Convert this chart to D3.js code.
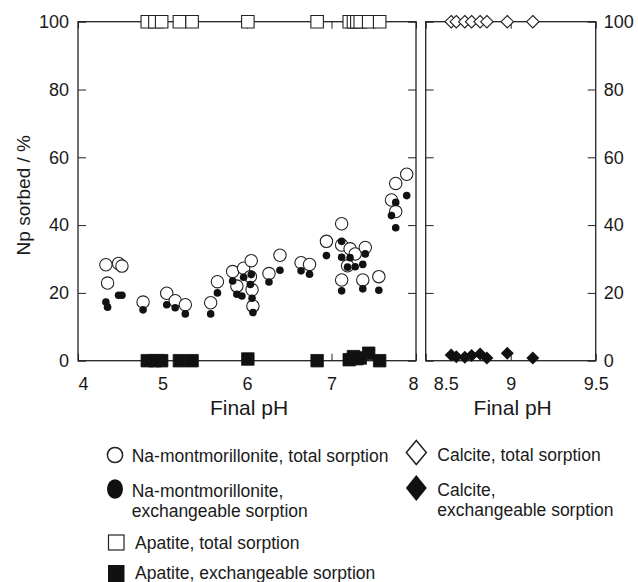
<!DOCTYPE html>
<html>
<head>
<meta charset="utf-8">
<script src="https://cdn.jsdelivr.net/npm/d3@7/dist/d3.min.js"></script>
<style>
  html, body { margin: 0; padding: 0; background: #fff; }
  svg { display: block; }
  text { font-family: "Liberation Sans", Arial, Helvetica, sans-serif; fill: #1a1a1a; }
</style>
</head>
<body>
<svg id="chart" width="638" height="582"></svg>
<script>
// ---------------- data ----------------
const montTotalPH = [4.33,4.35,4.48,4.52,4.77,5.05,5.15,5.27,5.57,5.65,5.83,5.88,5.96,6.05,6.04,6.06,6.07,6.26,6.39,6.64,6.74,6.94,7.12,7.12,7.12,7.22,7.28,7.19,7.40,7.37,7.56,7.71,7.76,7.76,7.89];
const montTotal   = [28.3,22.9,28.7,27.9,17.3,19.9,17.7,16.5,17.1,23.3,26.3,22.0,27.3,29.5,24.8,20.9,16.1,25.7,31.1,28.9,28.4,35.2,40.4,34.1,23.8,33.0,31.5,28.0,33.4,23.8,24.8,47.4,52.3,44.0,55.0];
const montExPH    = [4.33,4.35,4.48,4.52,4.77,5.05,5.15,5.27,5.57,5.65,5.83,5.88,5.94,5.96,6.05,6.04,6.06,6.07,6.26,6.39,6.64,6.74,6.94,7.12,7.12,7.12,7.19,7.22,7.28,7.37,7.40,7.37,7.56,7.71,7.76,7.76,7.89];
const montEx      = [17.3,15.8,19.3,19.3,15.0,16.5,15.6,13.8,13.8,20.0,23.5,19.6,19.1,24.6,25.4,22.5,18.4,14.2,23.2,26.7,26.5,25.5,31.0,35.2,30.5,20.6,27.6,30.4,27.7,28.4,31.5,21.2,20.8,42.8,46.7,39.2,48.7];
const apPH        = [4.82,4.91,4.99,5.20,5.35,6.01,6.83,7.21,7.26,7.30,7.34,7.44,7.57];
const apTotal     = [100,100,100,100,100,100,100,100,100,100,100,100,100];
const apEx        = [0,0,0,0,0,0.5,0,0.3,1.2,0.6,0.8,2.2,0];
const calPH       = [8.65,8.68,8.73,8.77,8.82,8.86,8.98,9.13];
const calTotal    = [100,100,100,100,100,100,100,100];
const calEx       = [1.7,1.2,1.0,1.5,2.0,0.8,2.2,0.8];

const xTicksL = [4,5,6,7,8];
const xTicksR = [8.5,9,9.5];
const yTicks  = [0,20,40,60,80,100];
const xTitle  = "Final pH";
const yTitle  = "Np sorbed / %";
const legendLeft  = [["Na-montmorillonite, total sorption"], ["Na-montmorillonite,", "exchangeable sorption"], ["Apatite, total sorption"], ["Apatite, exchangeable sorption"]];
const legendRight = [["Calcite, total sorption"], ["Calcite,", "exchangeable sorption"]];

// ---------------- layout ----------------
const svg = d3.select("#chart");
const yTop = 21.7, yBot = 360.7;
const PL = {x0: 78, x1: 416}, PR = {x0: 425.7, x1: 595.7};
const xL = d3.scaleLinear().domain([4, 8]).range([PL.x0, PL.x1]);
const xR = d3.scaleLinear().domain([8.5, 9.5]).range([PR.x0, PR.x1]);
const y  = d3.scaleLinear().domain([0, 100]).range([yBot, yTop]);
const ink = "#222";

function styleAxis(g, labels) {
  g.select(".domain").remove();
  g.selectAll(".tick line").attr("stroke", ink).attr("stroke-width", 1);
  if (!labels) g.selectAll(".tick text").remove();
  else g.selectAll(".tick text").attr("font-size", 18).attr("fill", "#1a1a1a")
        .style("font-family", '"Liberation Sans", Arial, sans-serif');
}

function panel(x, ticks, opts) {
  const g = svg.append("g");
  g.append("g").attr("transform", `translate(0,${yBot})`)
    .call(d3.axisBottom(x).tickValues(ticks).tickSize(-7).tickPadding(17).tickFormat(d3.format("")))
    .call(a => styleAxis(a, true))
    .call(a => a.selectAll(".tick text").attr("dx", d => (opts.dx[d] || 0)));
  g.append("g").attr("transform", `translate(0,${yTop})`)
    .call(d3.axisTop(x).tickValues(ticks).tickSize(-7))
    .call(a => styleAxis(a, false));
  const x0 = x.range()[0], x1 = x.range()[1];
  g.append("g").attr("transform", `translate(${x0},0)`)
    .call(d3.axisLeft(y).tickValues(yTicks).tickSize(-8).tickPadding(9))
    .call(a => styleAxis(a, opts.leftLabels));
  g.append("g").attr("transform", `translate(${x1},0)`)
    .call(d3.axisRight(y).tickValues(yTicks).tickSize(-8).tickPadding(8))
    .call(a => styleAxis(a, opts.rightLabels));
  g.append("rect").attr("x", x0).attr("y", yTop).attr("width", x1 - x0).attr("height", yBot - yTop)
    .attr("fill", "none").attr("stroke", ink).attr("stroke-width", 1.3);
  g.append("text").attr("x", (x0 + x1) / 2 + 2).attr("y", 415).attr("text-anchor", "middle")
    .attr("font-size", 21).text(xTitle);
  return g;
}

panel(xL, xTicksL, {dx: {4: 5, 8: -3}, leftLabels: true, rightLabels: false});
panel(xR, xTicksR, {dx: {8.5: 20}, leftLabels: false, rightLabels: true});

svg.append("text")
  .attr("transform", `translate(30,${(yTop + yBot) / 2 + 4}) rotate(-90)`)
  .attr("text-anchor", "middle").attr("font-size", 19).text(yTitle);

// ---------------- markers ----------------
const sqSym = d3.symbol().type(d3.symbolSquare).size(12.5 * 12.5);
const diaPath = s => `M0,${-s}L${s},0L0,${s}L${-s},0Z`;

const marks = svg.append("g");
marks.selectAll(".apT").data(apPH.map((p, i) => [p, apTotal[i]])).join("path")
  .attr("d", sqSym).attr("transform", d => `translate(${xL(d[0])},${y(d[1])})`)
  .attr("fill", "#fff").attr("stroke", ink).attr("stroke-width", 1.1);
marks.selectAll(".apE").data(apPH.map((p, i) => [p, apEx[i]])).join("path")
  .attr("d", sqSym).attr("transform", d => `translate(${xL(d[0])},${y(d[1])})`)
  .attr("fill", "#111").attr("stroke", "#111").attr("stroke-width", 0.8);
marks.selectAll(".mT").data(montTotalPH.map((p, i) => [p, montTotal[i]])).join("circle")
  .attr("cx", d => xL(d[0])).attr("cy", d => y(d[1])).attr("r", 6.2)
  .attr("fill", "#fff").attr("stroke", ink).attr("stroke-width", 1.1);
marks.selectAll(".mE").data(montExPH.map((p, i) => [p, montEx[i]])).join("circle")
  .attr("cx", d => xL(d[0])).attr("cy", d => y(d[1])).attr("r", 3.8)
  .attr("fill", "#111");
marks.selectAll(".cT").data(calPH.map((p, i) => [p, calTotal[i]])).join("path")
  .attr("d", diaPath(6.2)).attr("transform", d => `translate(${xR(d[0])},${y(d[1])})`)
  .attr("fill", "#fff").attr("stroke", ink).attr("stroke-width", 1.1);
marks.selectAll(".cE").data(calPH.map((p, i) => [p, calEx[i]])).join("path")
  .attr("d", diaPath(6.5)).attr("transform", d => `translate(${xR(d[0])},${y(d[1])})`)
  .attr("fill", "#111");

// ---------------- legend ----------------
const lg = svg.append("g");
function legText(x, yb, lines) {
  const t = lg.append("text").attr("x", x).attr("y", yb).attr("font-size", 17.5);
  lines.forEach((s, i) => t.append("tspan").attr("x", x).attr("dy", i ? 20 : 0).text(s));
}
lg.append("circle").attr("cx", 115).attr("cy", 455).attr("r", 7.6).attr("fill", "#fff").attr("stroke", ink).attr("stroke-width", 1.5);
legText(131.7, 461.5, legendLeft[0]);
lg.append("ellipse").attr("cx", 115).attr("cy", 489).attr("rx", 8).attr("ry", 9.8).attr("fill", "#111");
legText(131.7, 496.7, legendLeft[1]);
lg.append("rect").attr("x", 108.5).attr("y", 535).attr("width", 15.5).attr("height", 15).attr("fill", "#fff").attr("stroke", ink).attr("stroke-width", 1.2);
legText(135, 549, legendLeft[2]);
lg.append("rect").attr("x", 108).attr("y", 565).attr("width", 16.5).attr("height", 17).attr("fill", "#111");
legText(135, 579.3, legendLeft[3]);

lg.append("path").attr("d", "M0,-12L10,0L0,12L-10,0Z").attr("transform", "translate(416.3,452.5)")
  .attr("fill", "#fff").attr("stroke", ink).attr("stroke-width", 1.5);
legText(437.3, 460.7, legendRight[0]);
lg.append("path").attr("d", "M0,-13L10.5,0L0,13L-10.5,0Z").attr("transform", "translate(416.3,488)")
  .attr("fill", "#111");
legText(437.3, 495.7, legendRight[1]);
</script>
</body>
</html>
